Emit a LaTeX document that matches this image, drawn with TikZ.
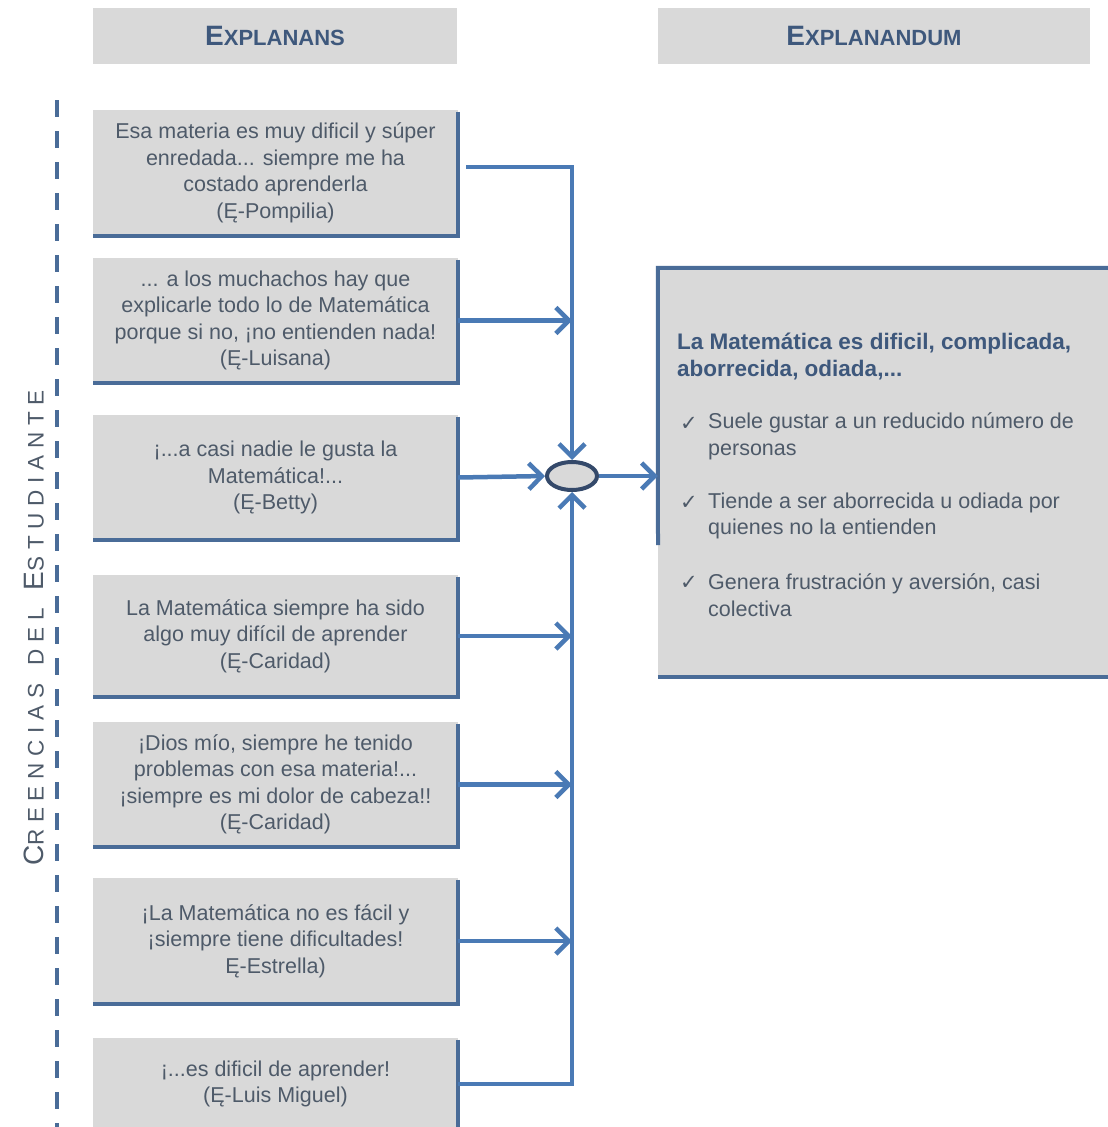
\documentclass[tikz,border=0pt]{standalone}
\usepackage{fontspec}
\setmainfont{Liberation Sans}
\newfontfamily\symfont{DejaVu Sans}
\usetikzlibrary{arrows.meta,shapes.geometric,calc}
\definecolor{boxgray}{HTML}{D9D9D9}
\definecolor{txt}{HTML}{4E5A69}
\definecolor{headc}{HTML}{3E587C}
\definecolor{bord}{HTML}{4A6C98}
\definecolor{arrc}{HTML}{4A7AB5}
\definecolor{ellb}{HTML}{34496A}
\newcommand{\bodyfont}{\fontsize{21.5}{26.5}\selectfont}
\tikzset{
  qbox/.style={fill=boxgray, minimum width=365pt, inner sep=0pt, align=center,
    text=txt, font=\bodyfont},
  bordline/.style={draw=bord, line width=4.5pt, line join=miter},
  conn/.style={draw=arrc, line width=4.5pt, line join=miter},
  arr/.style={-{Straight Barb[length=13pt,width=26pt]}},
  hdr/.style={fill=boxgray, minimum height=56pt, inner sep=0pt, text=headc,
    font=\bfseries\fontsize{22}{22}\selectfont},
  item/.style={anchor=west, align=left, text=txt, font=\bodyfont},
  chk/.style={text=txt, font=\symfont\fontsize{21}{21}\selectfont, inner sep=0pt}
}
\begin{document}
\begin{tikzpicture}[x=1pt,y=-1pt]
\useasboundingbox (0,0) rectangle (1108,1127);
\fill[white] (0,0) rectangle (1108,1127);

% headers
\node[hdr, minimum width=364pt] (h1) at (275,36) {{\fontsize{28}{28}\selectfont E}XPLANANS};
\node[hdr, minimum width=432pt] (h2) at (874,36) {{\fontsize{28}{28}\selectfont E}XPLANANDUM};

% dashed line and vertical label
\coordinate (d1) at (57,100);
\coordinate (d2) at (57,1130);
\draw[draw=bord, line width=4.5pt, dash pattern=on 17pt off 14pt] (d1) -- (d2);
\node[rotate=90, text=txt, inner sep=0pt] (lab) at (34,628)
  {\addfontfeature{LetterSpace=30}{\fontsize{28}{28}\selectfont C}{\fontsize{22.5}{22.5}\selectfont REENCIAS}\hspace{18pt}{\fontsize{22.5}{22.5}\selectfont DEL}\hspace{18pt}{\fontsize{28}{28}\selectfont E}{\fontsize{22.5}{22.5}\selectfont STUDIANTE}};

% quote boxes
\node[qbox, minimum height=126pt] (b1) at (275.5,173) {Esa materia es muy dificil y súper\\enredada... siempre me ha\\costado aprenderla\\(Ę-Pompilia)};
\node[qbox, minimum height=125pt] (b2) at (275.5,320.5) {... a los muchachos hay que\\explicarle todo lo de Matemática\\porque si no, ¡no entienden nada!\\(Ę-Luisana)};
\node[qbox, minimum height=125pt] (b3) at (275.5,477.5) {¡...a casi nadie le gusta la\\Matemática!...\\(Ę-Betty)};
\node[qbox, minimum height=122pt] (b4) at (275.5,636) {La Matemática siempre ha sido\\algo muy difícil de aprender\\(Ę-Caridad)};
\node[qbox, minimum height=125pt] (b5) at (275.5,784.5) {¡Dios mío, siempre he tenido\\problemas con esa materia!...\\¡siempre es mi dolor de cabeza!!\\(Ę-Caridad)};
\node[qbox, minimum height=126pt] (b6) at (275.5,941) {¡La Matemática no es fácil y\\¡siempre tiene dificultades!\\Ę-Estrella)};
\node[qbox, minimum height=92pt] (b7) at (275.5,1084) {¡...es dificil de aprender!\\(Ę-Luis Miguel)};

\foreach \b in {b1,b2,b3,b4,b5,b6,b7}{
  \draw[bordline] ([yshift=-2pt]\b.north east) -- (\b.south east) -- (\b.south west);
}

% right box
\node[fill=boxgray, minimum width=450pt, minimum height=409pt, inner sep=0pt] (rb) at (883,472.5) {};
\coordinate (rbl) at (658,545);
\draw[bordline, line width=4pt] (rb.north east) -- (rb.north west) -- (rbl);
\draw[bordline] (rb.south west) -- (rb.south east);

\node[anchor=west, align=left, text=headc, font=\bfseries\fontsize{22.5}{27}\selectfont, inner sep=0pt] (rt) at (677,356.5) {La Matemática es dificil, complicada,\\aborrecida, odiada,...};
\node[chk] (c1) at (689,424) {✓};
\node[item, inner sep=0pt] (i1) at (708,436.5) {Suele gustar a un reducido número de\\personas};
\node[chk] (c2) at (689,503) {✓};
\node[item, inner sep=0pt] (i2) at (708,516) {Tiende a ser aborrecida u odiada por\\quienes no la entienden};
\node[chk] (c3) at (689,583) {✓};
\node[item, inner sep=0pt] (i3) at (708,595) {Genera frustración y aversión, casi\\colectiva};

% junction
\node[ellipse, draw=ellb, fill=boxgray, line width=4pt, minimum width=50pt, minimum height=28pt, inner sep=0pt] (e) at (572,476) {};

% connectors
\draw[conn, arr] ([xshift=8pt,yshift=6pt]b1.east) -| (e.north);
\draw[conn, arr] (b2.east) -- (b2.east -| e.north);
\draw[conn, arr] (b3.east) -- (e.west);
\draw[conn, arr] (b7.east) -| (e.south);
\draw[conn, arr] (b4.east) -- (b4.east -| e.south);
\draw[conn, arr] (b5.east) -- (b5.east -| e.south);
\draw[conn, arr] (b6.east) -- (b6.east -| e.south);
\draw[conn, arr] (e.east) -- (e.east -| rb.west);
\end{tikzpicture}
\end{document}
